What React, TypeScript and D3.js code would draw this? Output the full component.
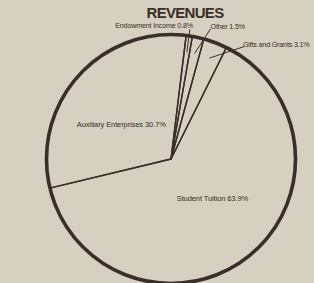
import React from 'react';
import * as d3 from 'd3';

// chart data
const categories = ['Endowment Income', 'Other', 'Gifts and Grants', 'Student Tuition', 'Auxiliary Enterprises'];
const shares = [0.8, 1.5, 3.1, 63.9, 30.7];
const title = 'REVENUES';

const width = 314;
const height = 283;
const cx = 171;
const cy = 159;
const radius = 124.5;
const startDeg = 7;

const bg = '#d6d0c0';
const ink = '#3a2e29';

// where each label sits: small slices get a leader line out past the rim
const labelLayout: Record<string, { out: boolean; angle?: number; r?: number; anchor: string; dx: number; dy: number }> = {
  'Endowment Income': { out: true, angle: 8.3, r: 131, anchor: 'end', dx: 3, dy: -1 },
  Other: { out: true, angle: 16.9, r: 136, anchor: 'start', dx: 0, dy: 0 },
  'Gifts and Grants': { out: true, angle: 33, r: 134, anchor: 'start', dx: -1, dy: 0 },
  'Student Tuition': { out: false, anchor: 'middle', dx: 4, dy: -7 },
  'Auxiliary Enterprises': { out: false, anchor: 'middle', dx: -5, dy: 6 }
};

const rad = (deg: number) => (deg * Math.PI) / 180;
const polar = (deg: number, r: number): [number, number] => [Math.sin(rad(deg)) * r, -Math.cos(rad(deg)) * r];

export default function App() {
  const data = categories.map((name, i) => ({ name, value: shares[i] }));

  const pie = d3
    .pie<{ name: string; value: number }>()
    .sort(null)
    .value(d => d.value)
    .startAngle(rad(startDeg))
    .endAngle(rad(startDeg + 360));
  const arcs = pie(data);

  const arc = d3.arc<d3.PieArcDatum<{ name: string; value: number }>>().innerRadius(0).outerRadius(radius);
  const innerLabelArc = d3
    .arc<d3.PieArcDatum<{ name: string; value: number }>>()
    .innerRadius(60)
    .outerRadius(60);
  const leaderArc = d3
    .arc<d3.PieArcDatum<{ name: string; value: number }>>()
    .innerRadius(108)
    .outerRadius(108);

  const font = "'Liberation Sans', Arial, sans-serif";

  return (
    <svg
      width={width}
      height={height}
      style={{ position: 'absolute', left: 0, top: 0, background: bg }}
    >
      <rect width={width} height={height} fill={bg} />
      <text
        x={185}
        y={18}
        textAnchor="middle"
        fontFamily={font}
        fontWeight="bold"
        fontSize={15}
        letterSpacing={-0.7}
        fill={ink}
      >
        {title}
      </text>
      <g transform={`translate(${cx},${cy})`}>
        {arcs.map(a => (
          <path key={a.data.name} d={arc(a) || ''} fill="none" stroke={ink} strokeWidth={1.4} strokeLinejoin="round" />
        ))}
        <circle r={radius} fill="none" stroke={ink} strokeWidth={3.6} />
        {arcs.map(a => {
          const lay = labelLayout[a.data.name];
          const label = `${a.data.name} ${a.data.value}%`;
          if (!lay.out) {
            const [x, y] = innerLabelArc.centroid(a);
            return (
              <text
                key={a.data.name}
                x={x + lay.dx}
                y={y + lay.dy}
                textAnchor={lay.anchor}
                dominantBaseline="middle"
                fontFamily={font}
                fontSize={7.5}
                letterSpacing={-0.1}
                fill={ink}
              >
                {label}
              </text>
            );
          }
          const [x0, y0] = leaderArc.centroid(a);
          const [x1, y1] = polar(lay.angle!, lay.r!);
          return (
            <g key={a.data.name}>
              <line x1={x0} y1={y0} x2={x1} y2={y1} stroke={ink} strokeWidth={1} />
              <text
                x={x1 + lay.dx}
                y={y1 + lay.dy}
                textAnchor={lay.anchor}
                fontFamily={font}
                fontSize={7.2}
                letterSpacing={-0.2}
                fill={ink}
              >
                {label}
              </text>
            </g>
          );
        })}
      </g>
    </svg>
  );
}
